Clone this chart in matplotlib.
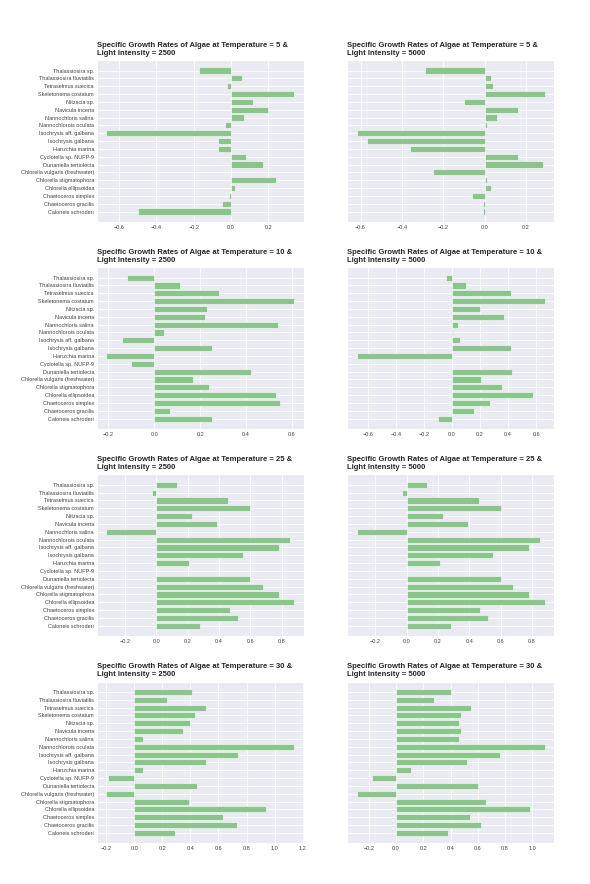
import numpy as np
import matplotlib
matplotlib.use("Agg")
import matplotlib.pyplot as plt
import seaborn as sns

sns.set_style("darkgrid")
plt.rcParams['font.family'] = ['Liberation Sans', 'DejaVu Sans']

# species, top to bottom as shown
species = ["Thalassiosira sp.", "Thalassiosira fluviatilis", "Tetraselmus suecica",
           "Skeletonema costatum", "Nitzscia sp.", "Navicula incerta",
           "Nannochloris salina", "Nannochlorois oculata", "Isochrysis aff. galbana",
           "Isochrysis galbana", "Hanzchia marina", "Cyclotella sp. NUFP-9",
           "Dunaniella tertiolecta", "Chlorella vulgaris (freshwater)",
           "Chlorella stigmatophora", "Chlorella ellipsoidea", "Chaetoceros simplex",
           "Chaetoceros gracilis", "Caloneis schroderi"]

temps = [5, 10, 25, 30]
lights = [2500, 5000]

# growth rates, same order as species
t5_l2500 = [-0.17, 0.06, -0.02, 0.34, 0.12, 0.20, 0.07, -0.03, -0.67, -0.07,
            -0.07, 0.08, 0.17, 0.0, 0.24, 0.02, -0.01, -0.05, -0.50]
t5_l5000 = [-0.29, 0.03, 0.04, 0.29, -0.10, 0.16, 0.06, 0.01, -0.62, -0.57,
            -0.36, 0.16, 0.28, -0.25, 0.01, 0.03, -0.06, -0.01, -0.01]
t10_l2500 = [-0.12, 0.11, 0.28, 0.61, 0.23, 0.22, 0.54, 0.04, -0.14, 0.25,
             -0.21, -0.10, 0.42, 0.17, 0.24, 0.53, 0.55, 0.07, 0.25]
t10_l5000 = [-0.04, 0.10, 0.42, 0.66, 0.20, 0.37, 0.04, 0.01, 0.06, 0.42,
             -0.68, 0.0, 0.43, 0.21, 0.36, 0.58, 0.27, 0.16, -0.10]
t25_l2500 = [0.13, -0.03, 0.46, 0.60, 0.23, 0.39, -0.32, 0.85, 0.78, 0.55,
             0.21, 0.0, 0.60, 0.68, 0.78, 0.88, 0.47, 0.52, 0.28]
t25_l5000 = [0.13, -0.03, 0.46, 0.60, 0.23, 0.39, -0.32, 0.85, 0.78, 0.55,
             0.21, 0.0, 0.60, 0.68, 0.78, 0.88, 0.47, 0.52, 0.28]
t30_l2500 = [0.41, 0.23, 0.51, 0.43, 0.40, 0.35, 0.06, 1.14, 0.74, 0.51,
             0.06, -0.19, 0.45, -0.20, 0.39, 0.94, 0.63, 0.73, 0.29]
t30_l5000 = [0.40, 0.28, 0.55, 0.48, 0.46, 0.48, 0.46, 1.09, 0.76, 0.52,
             0.11, -0.18, 0.60, -0.29, 0.66, 0.98, 0.54, 0.62, 0.38]

rates = [[t5_l2500, t5_l5000], [t10_l2500, t10_l5000],
         [t25_l2500, t25_l5000], [t30_l2500, t30_l5000]]

fig, axes = plt.subplots(4, 2, figsize=(5.9, 8.84), dpi=100)
plt.subplots_adjust(left=0.164, right=0.939, top=0.932, bottom=0.046,
                    hspace=0.28, wspace=0.21)

ypos = np.arange(len(species))[::-1]

for i, t in enumerate(temps):
    for j, l in enumerate(lights):
        ax = axes[i, j]
        ax.barh(ypos, rates[i][j], height=0.78, color='#8cc58c', edgecolor='white', linewidth=0.4)
        ax.set_yticks(ypos)
        if j == 0:
            ax.set_yticklabels(species)
        else:
            ax.set_yticklabels([])
        ax.tick_params(axis='both', labelsize=4.0, pad=2, colors='#444444', length=0)
        ax.grid(True, color='white', linewidth=0.6)
        ax.set_title("Specific Growth Rates of Algae at Temperature = %d &\nLight Intensity = %d" % (t, l),
                     loc='left', fontsize=5.5, fontweight='bold', color='#262626', pad=4)

plt.savefig("out.png", dpi=100)
